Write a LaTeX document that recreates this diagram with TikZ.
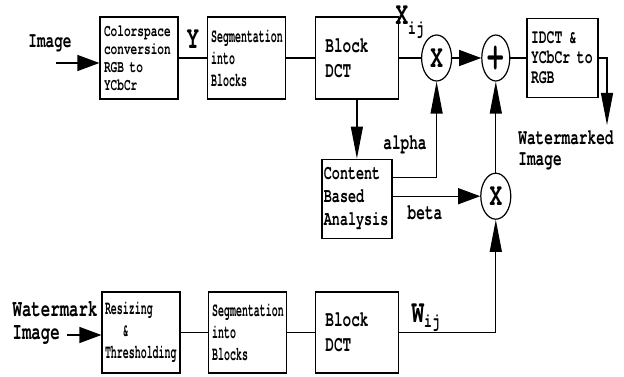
\documentclass[tikz,border=0pt]{standalone}
\usepackage{fontspec}
\newfontfamily\diafont{texgyrecursor}[Extension=.otf, UprightFont=*-regular, BoldFont=*-bold, FakeStretch=0.655]
\newfontfamily\slimfont{texgyrecursor}[Extension=.otf, UprightFont=*-regular, BoldFont=*-bold, FakeStretch=0.51]
\usetikzlibrary{shapes.geometric,arrows.meta,positioning}

\begin{document}
\begin{tikzpicture}[
    x=1pt, y=-1pt,
    line width=1.2pt,
    block/.style={rectangle, draw, minimum height=82pt, align=left, inner xsep=4pt, font=\diafont\bfseries\fontsize{17}{18}\selectfont},
    bigblock/.style={block, font=\diafont\bfseries\fontsize{22}{25}\selectfont},
    slimblock/.style={block, font=\slimfont\bfseries\fontsize{19.5}{22}\selectfont},
    op/.style={ellipse, draw, minimum width=30pt, minimum height=46pt, inner sep=0pt, font=\diafont\bfseries\fontsize{32}{32}\selectfont},
    lbl/.style={font=\diafont\bfseries\fontsize{22}{21}\selectfont, align=left, inner sep=0pt},
    sym/.style={font=\diafont\bfseries\fontsize{32}{32}\selectfont, inner sep=0pt},
    arrow/.style={-{Triangle[length=22pt,width=16pt]}},
    varrow/.style={-{Triangle[length=32pt,width=12pt]}}
]
\useasboundingbox (0,0) rectangle (624,377);

% Host image path
\node[block, text width=70pt] (cs) at (139,58) {Colorspace\\conversion\\RGB to\\YCbCr};
\node[slimblock, text width=70pt, right=28pt of cs] (seg) {Segmentation\\into\\Blocks};
\node[bigblock, text width=63pt, inner xsep=10pt, right=29pt of seg] (dct) {Block\\DCT};

% Embedding
\node[op, right=22pt of dct] (mul) {X};
\node[op, minimum width=28pt, right=29pt of mul, font=\diafont\bfseries\fontsize{42}{42}\selectfont] (add) {+};
\node[block, text width=63pt, minimum height=79pt, font=\diafont\bfseries\fontsize{20}{20}\selectfont, right=16pt of add] (idct) {IDCT \&\\YCbCr to\\RGB};

% Strength factors
\node[block, text width=66pt, inner xsep=2pt, minimum height=79pt, font=\diafont\bfseries\fontsize{20.5}{23}\selectfont, below=59pt of dct] (content) {Content\\Based\\Analysis};
\node[op, below=91pt of add] (mul2) {X};

% Watermark path
\node[slimblock, text width=72pt, inner xsep=3pt, minimum height=81pt] (resize) at (141,332.5) {Resizing\\\phantom{Res}\&\\Thresholding};
\node[slimblock, text width=70pt, minimum height=81pt, right=27pt of resize] (seg2) {Segmentation\\into\\Blocks};
\node[bigblock, text width=63pt, inner xsep=10pt, minimum height=81pt, right=28pt of seg2] (wdct) {Block\\DCT};

% Labels
\node[lbl] (imglbl) at (50,43) {Image};
\node[lbl, anchor=west, font=\diafont\bfseries\fontsize{24}{23}\selectfont] (wmlbl) at (12,322.5) {Watermark\\Image};
\node[lbl] (outlbl) at (566,150) {Watermarked\\Image};
\node[lbl] (alpha) at (405,145) {alpha};
\node[lbl] (beta) at (425,213) {beta};
\node[sym] (ylbl) at (193,39) {Y};
\node[sym, anchor=base west] (xij) at (395,25) {X\raisebox{-10pt}{\fontsize{20}{20}\selectfont ij}};
\node[sym, anchor=base west] (wij) at (411,322) {W\raisebox{-5pt}{\fontsize{20}{20}\selectfont ij}};

\coordinate (imgin) at (56,63);
\coordinate (wmin) at (67,335);
\coordinate (wmout) at (607,125);

% Arrows
\draw[arrow] (imgin) -- (imgin -| cs.west);
\draw (cs) -- (seg);
\draw (seg) -- (dct);
\draw (dct) -- (mul);
\draw[arrow] (mul) -- (add);
\draw (add) -- (idct);
\draw[varrow] (idct.east) -| (wmout);
\draw[varrow] (dct.south) -- (content.north);
\draw[varrow] ([yshift=21pt]content.east) -| (mul.south);
\draw[arrow] (content.east |- mul2.west) -- (mul2.west);
\draw[varrow] (mul2) -- (add);
\draw[arrow] (wmin) -- (wmin -| resize.west);
\draw (resize) -- (seg2);
\draw (seg2) -- (wdct);
\draw[varrow] (wdct.east) -| (mul2.south);

\end{tikzpicture}
\end{document}
